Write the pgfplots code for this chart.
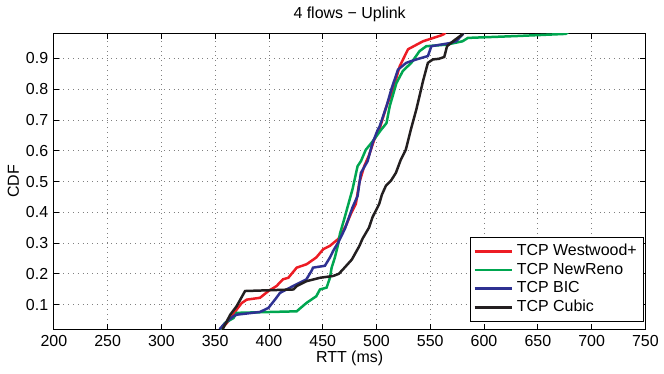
\documentclass[border=0pt]{standalone}
\usepackage{pgfplots}
\pgfplotsset{compat=1.18}
\usepackage{fontspec}
\setmainfont{Liberation Sans}

\definecolor{cRed}{RGB}{237,28,36}
\definecolor{cGreen}{RGB}{0,166,80}
\definecolor{cBlue}{RGB}{46,49,146}
\definecolor{cBlack}{RGB}{35,31,32}

\begin{document}
\fontsize{8}{9.6}\selectfont
\begin{tikzpicture}
\begin{axis}[
    scale only axis,
    width=296.5pt, height=148pt,
    xmin=200, xmax=750,
    ymin=0.02, ymax=0.98,
    xtick={200,250,...,750},
    ytick={0.1,0.2,...,0.9},
    yticklabel style={/pgf/number format/fixed, /pgf/number format/precision=1},
    /pgf/number format/assume math mode=true,
    tick align=inside,
    tick pos=both,
    major tick length=2.5pt,
    tick style={black, line width=0.4pt},
    axis line style={line width=0.5pt},
    grid=major,
    major grid style={dotted, gray},
    title={4 flows − Uplink},
    xlabel={RTT (ms)},
    ylabel={CDF},
    title style={yshift=-3pt},
    xlabel style={yshift=3pt},
    ylabel style={yshift=-2pt},
    tick label style={font=\fontsize{8}{9.6}\selectfont},
    legend cell align=left,
    legend style={at={(rel axis cs:0.998,0.025)}, anchor=south east,
        draw=black, line width=0.5pt, inner sep=1.5pt,
        row sep=-1.5pt, font=\fontsize{8}{9.6}\selectfont},
    legend image post style={line width=1.25pt},
    legend image code/.code={\draw[#1] (0cm,0cm) -- (0.65cm,0cm);},
    every axis plot/.append style={line width=1.25pt},
]
\coordinate (sw) at (rel axis cs:0,0);
\coordinate (ne) at (rel axis cs:1,1);

% TCP Westwood+
\addplot[cRed] coordinates {
 (355,0.02) (360.8,0.04) (365.5,0.06) (370,0.084) (374.7,0.105) (379.4,0.116)
 (391.7,0.122) (399.5,0.144) (407,0.16) (413,0.182) (418,0.187) (425.8,0.22)
 (435,0.231) (444,0.253) (450.5,0.28) (456.7,0.291) (464.4,0.313) (469,0.34)
 (471.6,0.357) (476.2,0.395) (480.8,0.427) (484,0.496) (488.6,0.55) (493.2,0.587)
 (497.8,0.635) (502.5,0.667) (509.3,0.745) (515.4,0.80) (521.6,0.875) (529.3,0.93)
 (540,0.95) (543.2,0.956) (560,0.975) (563,0.98) (565,0.99)
};
% TCP NewReno
\addplot[cGreen] coordinates {
 (355,0.02) (359,0.04) (367,0.056) (370,0.073) (425.8,0.078) (434.8,0.105)
 (444,0.127) (447.4,0.149) (453.6,0.155) (456.7,0.187) (458.3,0.22) (461.3,0.253)
 (464.4,0.297) (466,0.33) (470,0.378) (477.7,0.475) (482.4,0.55) (485.5,0.566)
 (490,0.603) (496.3,0.63) (504,0.667) (509.3,0.69) (512.3,0.745) (518.5,0.82)
 (524.6,0.86) (532.4,0.886) (540,0.924) (546.3,0.94) (565,0.945) (580,0.956)
 (585,0.967) (630,0.973) (676,0.98) (680,0.99)
};
% TCP BIC
\addplot[cBlue] coordinates {
 (354,0.02) (360.8,0.045) (367,0.062) (370,0.067) (391.7,0.076) (399.5,0.089)
 (405.6,0.116) (410.3,0.138) (419.6,0.155) (425.8,0.166) (434.8,0.182) (439.5,0.209)
 (441,0.22) (452,0.226) (456.7,0.253) (459.8,0.275) (464.4,0.302) (467.5,0.324)
 (470.6,0.346) (477.7,0.416) (482.4,0.453) (485.5,0.528) (491.7,0.566) (496.3,0.625)
 (501,0.667) (503,0.68) (509.3,0.745) (513.8,0.80) (520,0.864) (527.7,0.886)
 (537,0.897) (547.8,0.908) (551,0.94) (568,0.95) (574,0.956) (580,0.978) (582,0.99)
};
% TCP Cubic
\addplot[cBlack] coordinates {
 (357,0.02) (364,0.067) (370,0.095) (377.8,0.144) (422.7,0.149) (425.8,0.16)
 (435,0.176) (447.4,0.187) (459.8,0.193) (465,0.2) (469,0.215) (477,0.246)
 (484,0.29) (487,0.314) (493,0.35) (496.3,0.384) (502.5,0.427) (505,0.457)
 (508.7,0.486) (513.3,0.502) (518,0.528) (522.6,0.571) (527.2,0.603) (531.8,0.667)
 (537,0.734) (540,0.778) (543.2,0.826) (547.8,0.886) (552.5,0.897) (558,0.899)
 (563,0.905) (565.6,0.94) (571.9,0.958) (579.6,0.978) (582,0.99)
};
\legend{TCP Westwood+, TCP NewReno, TCP BIC, TCP Cubic}
\end{axis}
\path ([shift={(-27pt,-22pt)}]sw) rectangle ([shift={(8.5pt,17pt)}]ne);
\end{tikzpicture}
\end{document}
